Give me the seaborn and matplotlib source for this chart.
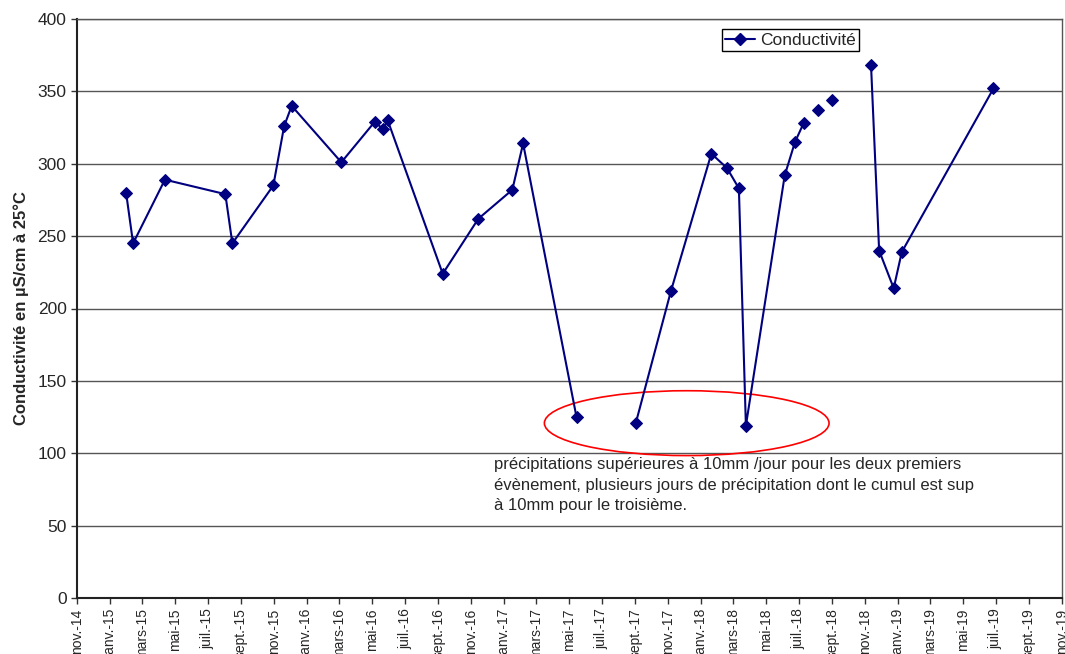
import pandas as pd
import numpy as np
import seaborn as sns
import matplotlib.pyplot as plt
from matplotlib.lines import Line2D
from matplotlib.patches import Ellipse

dates = ["2015-01-31", "2015-02-13", "2015-04-13", "2015-08-03", "2015-08-16",
         "2015-10-31", "2015-11-20", "2015-12-04", "2016-03-05", "2016-05-06",
         "2016-05-21", "2016-05-30", "2016-09-09", "2016-11-14", "2017-01-16",
         "2017-02-05", "2017-05-15", "2017-09-02", "2017-11-06", "2018-01-20",
         "2018-02-18", "2018-03-12", "2018-03-25", "2018-06-05", "2018-06-24",
         "2018-07-10", "2018-08-06", "2018-09-01", "2018-11-12", "2018-11-27",
         "2018-12-24", "2019-01-08", "2019-06-27"]
conductivite = [280, 245, 289, 279, 245, 285, 326, 340, 301, 329, 324, 330, 224,
                262, 282, 314, 125, 121, 212, 307, 297, 283, 119, 292, 315, 328,
                337, 344, 368, 240, 214, 239, 352]
# line pieces (the series has gaps where no line is drawn)
segment = [0] * 17 + [1] * 9 + [2] + [3] + [4] * 5

tick_months = ["nov.", "janv.", "mars", "mai", "juil.", "sept."]
y_ticks = [0, 50, 100, 150, 200, 250, 300, 350, 400]

note = ("précipitations supérieures à 10mm /jour pour les deux premiers\n"
        "évènement, plusieurs jours de précipitation dont le cumul est sup\n"
        "à 10mm pour le troisième.")

df = pd.DataFrame({"date": pd.to_datetime(dates), "cond": conductivite, "seg": segment})

sns.set_style("white")
plt.rcParams["font.family"] = ["Liberation Sans", "DejaVu Sans"]

fig = plt.figure(figsize=(10.65, 6.54), dpi=100)
ax = fig.add_axes([77 / 1065, 56 / 654, 985 / 1065, 579 / 654])

navy = "#000080"
sns.lineplot(data=df, x="date", y="cond", units="seg", estimator=None, ax=ax,
             color=navy, lw=1.5, marker="D", markersize=6.5,
             markeredgecolor=navy, legend=False)

# axes
ax.set_ylim(0, 400)
ax.set_yticks(y_ticks)
ax.set_yticklabels([str(v) for v in y_ticks], fontsize=12.5)
ax.yaxis.grid(True, color="#555555", lw=1)
ax.set_axisbelow(True)

ticks = pd.date_range("2014-11-01", "2019-11-01", freq="2MS")
labels = [f"{tick_months[i % 6]}-{d.strftime('%y')}" for i, d in enumerate(ticks)]
ax.set_xlim(ticks[0], ticks[-1])
ax.set_xticks(ticks)
ax.set_xticklabels(labels, rotation=90, fontsize=10)
ax.tick_params(axis="both", direction="out", length=4, width=1, color="#333333",
               bottom=True, left=True)
ax.set_xlabel("")
ax.set_ylabel("Conductivité en µS/cm à 25°C", fontsize=12, fontweight="bold", labelpad=6)

for side in ["left", "bottom"]:
    ax.spines[side].set_color("#222222")
    ax.spines[side].set_linewidth(1.5)
for side in ["top", "right"]:
    ax.spines[side].set_color("#555555")
    ax.spines[side].set_linewidth(1)

# legend
handle = Line2D([], [], color=navy, lw=1.5, marker="D", markersize=6.5)
ax.legend([handle], ["Conductivité"], loc="upper left",
          bbox_to_anchor=(722 / 1065, 1 - 29 / 654), bbox_transform=fig.transFigure,
          fontsize=12.5, frameon=True, fancybox=False, edgecolor="black",
          framealpha=1, borderpad=0.2, handlelength=1.7, handletextpad=0.3,
          borderaxespad=0)
ax.get_legend().get_frame().set_linewidth(1)

# red ellipse and note on rain events
ax.add_patch(Ellipse((0.619, 0.302), 0.289, 0.112, transform=ax.transAxes,
                     fill=False, edgecolor="red", lw=1.2))
ax.text(0.423, 0.243, note, transform=ax.transAxes, ha="left", va="top",
        fontsize=12, linespacing=1.45)

plt.savefig("out.png", dpi=100)
